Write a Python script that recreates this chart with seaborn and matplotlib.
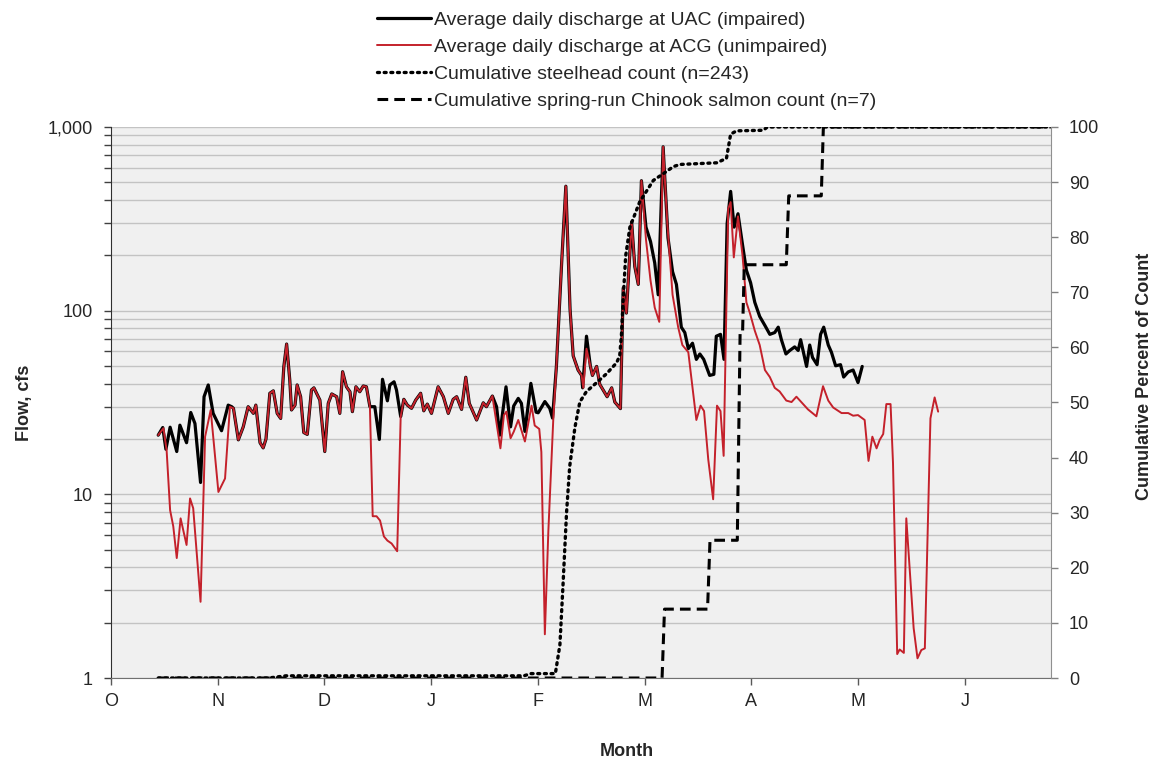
import numpy as np
import pandas as pd
import matplotlib
matplotlib.use("Agg")
import matplotlib.pyplot as plt
import seaborn as sns
from matplotlib.ticker import FixedLocator, NullFormatter

sns.set_style("white")
plt.rcParams['font.family'] = ['Liberation Sans', 'DejaVu Sans']

# Month axis (days counted from 1 October, months drawn at equal spacing)
month_labels = ["O", "N", "D", "J", "F", "M", "A", "M", "J"]
month_len = 30.5
x_end = 268.6

# Average daily discharge at UAC (impaired), cfs
uac_day = [13.5, 14.8, 15.7, 16.9, 18.8, 19.7, 21.6, 22.8, 24.0, 25.6, 26.6, 27.8, 29.2, 31.6, 33.5, 34.5,
           35.0, 36.4, 37.8, 39.2, 40.7, 41.4, 42.6, 43.5, 44.3, 45.4, 46.4, 47.5, 48.5, 49.4, 50.2, 51.1,
           51.6, 52.6, 53.2, 54.2, 55.1, 56.1, 57.3, 58.0, 59.7, 61.1, 62.1, 63.1, 64.5, 65.4, 66.2, 67.3,
           68.3, 69.0, 70.0, 71.1, 72.1, 73.0, 74.0, 75.4, 76.7, 77.6, 79.0, 79.7, 80.9, 81.6, 82.8, 83.7,
           84.7, 85.9, 87.1, 88.5, 89.4, 90.4, 91.6, 93.5, 95.0, 96.4, 97.8, 98.8, 100.2, 101.4, 102.4, 104.5,
           106.4, 107.3, 109.0, 110.2, 111.1, 112.9, 114.2, 115.1, 116.4, 117.3, 118.3, 120.0, 121.5, 122.1,
           124.0, 125.4, 126.2, 127.3, 128.8, 130.0, 131.2, 132.1, 133.5, 134.5, 134.8, 135.9, 137.0, 137.6,
           138.8, 139.7, 141.8, 143.1, 144.0, 145.6, 146.4, 147.3, 148.8, 149.7, 150.7, 151.6, 152.9, 154.2,
           155.4, 156.4, 157.8, 159.2, 160.5, 161.6, 163.0, 164.0, 165.0, 166.2, 167.3, 168.3, 169.4, 171.1,
           172.3, 173.0, 174.2, 175.2, 176.1, 177.1, 178.1, 179.2, 180.5, 181.6, 182.8, 184.0, 185.4, 186.9,
           188.3, 189.7, 190.7, 191.6, 192.9, 194.0, 195.4, 196.4, 197.1, 198.8, 199.7, 200.5, 201.8, 202.8,
           203.7, 205.0, 205.9, 207.1, 208.5, 209.4, 210.7, 212.1, 213.5, 214.7]
uac_flow = [21.0, 23.1, 17.6, 23.2, 17.1, 23.8, 19.1, 27.9, 24.3, 11.6, 34.0, 39.4, 27.6, 22.2, 30.6, 30.0,
            29.4, 19.8, 23.3, 30.0, 27.6, 30.6, 19.1, 17.9, 20.0, 35.5, 36.6, 27.6, 25.9, 49.5, 65.8, 41.9,
            28.8, 30.6, 39.4, 34.0, 21.7, 21.2, 37.0, 38.0, 32.6, 17.1, 31.3, 35.2, 34.0, 27.6, 46.5, 38.5,
            36.2, 28.2, 38.5, 36.2, 38.9, 38.5, 30.0, 30.0, 19.9, 42.3, 32.3, 39.4, 41.0, 37.0, 26.5, 32.9,
            30.6, 29.4, 32.6, 35.5, 28.5, 31.0, 27.6, 38.5, 34.0, 27.6, 32.9, 34.0, 29.0, 43.4, 31.3, 25.4,
            31.5, 30.0, 34.3, 30.0, 21.0, 38.5, 23.3, 30.3, 33.3, 31.3, 22.0, 40.2, 28.0, 27.8,
            32.0, 29.4, 26.0, 49.7, 182, 476, 102, 56.8, 47.5, 44.4, 38.0, 72.6, 50.0, 44.4,
            49.7, 39.7, 34.0, 38.0, 31.8, 29.3, 133, 97, 304, 174, 139, 510, 285, 238,
            182, 122, 780, 249, 163, 139, 81.3, 76.0, 62.1, 66.5, 54.3, 58.1, 54.3, 44.4,
            45.0, 72.6, 74.3, 54.3, 298, 446, 285, 337, 228, 166, 142, 111, 93, 83.0,
            74.3, 76.0, 81.3, 69.5, 58.1, 60.7, 63.5, 60.7, 69.5, 49.7, 65.0, 55.6, 50.8, 74.3,
            81.3, 65.0, 59.4, 50.1, 50.8, 43.5, 46.4, 47.5, 40.6, 49.7]

# Average daily discharge at ACG (unimpaired), cfs
acg_day = [13.5, 15.0, 15.9, 16.9, 17.8, 18.8, 19.9, 21.6, 22.6, 23.5, 25.6, 26.9, 28.5, 30.7, 32.6, 34.0,
           35.0, 36.4, 37.8, 39.2, 40.7, 41.4, 42.6, 43.5, 44.3, 45.4, 46.4, 47.5, 48.5, 49.4, 50.2, 51.1,
           51.6, 52.6, 53.2, 54.2, 55.1, 56.1, 57.3, 58.0, 59.7, 61.1, 62.1, 63.1, 64.5, 65.4, 66.2, 67.3,
           68.3, 69.0, 70.0, 71.1, 72.1, 73.0, 74.0, 74.8, 75.9, 76.9, 78.0, 79.0, 80.2, 81.8, 82.8, 83.7,
           84.7, 85.9, 87.1, 88.5, 89.4, 90.4, 91.6, 93.5, 95.0, 96.4, 97.8, 98.8, 100.2, 101.4, 102.4, 104.5,
           106.4, 107.3, 109.0, 110.2, 111.3, 112.3, 113.0, 114.2, 115.1, 116.4, 118.3, 120.2, 121.1, 122.4,
           123.0, 124.0, 125.0, 126.4, 127.3, 128.8, 130.0, 131.2, 132.1, 133.5, 134.5, 135.0, 135.9, 137.6,
           138.8, 139.7, 141.8, 143.1, 144.0, 145.6, 146.4, 147.3, 148.8, 149.7, 150.7, 151.6, 152.9, 154.2,
           155.4, 156.7, 157.8, 159.0, 160.5, 162.1, 163.3, 165.0, 167.3, 168.5, 169.5, 170.7, 172.1, 173.2,
           174.2, 175.1, 176.4, 177.1, 178.0, 179.2, 180.5, 181.6, 182.6, 184.0, 185.4, 186.9, 188.3, 189.7,
           191.1, 193.0, 194.5, 195.9, 197.3, 199.2, 201.6, 203.5, 205.0, 206.4, 208.8, 210.7, 212.1, 213.5,
           215.4, 216.5, 217.6, 218.8, 219.7, 220.7, 221.6, 222.8, 223.5, 224.7, 225.4, 226.6, 227.3, 229.4,
           230.5, 231.6, 232.6, 234.2, 235.4, 236.4]
acg_flow = [21.0, 22.9, 17.4, 8.2, 6.7, 4.5, 7.4, 5.3, 9.5, 8.4, 2.6, 20.6, 28.8, 10.3, 12.2, 30.0,
            29.4, 19.8, 23.3, 30.0, 27.6, 30.6, 19.1, 17.9, 20.0, 35.5, 36.6, 27.6, 25.9, 49.5, 65.8, 41.9,
            28.8, 30.6, 39.4, 34.0, 21.7, 21.2, 37.0, 38.0, 32.6, 17.1, 31.3, 35.2, 34.0, 27.6, 46.5, 38.5,
            36.2, 28.2, 38.5, 36.2, 38.9, 38.5, 30.0, 7.6, 7.6, 7.2, 5.9, 5.6, 5.4, 4.9, 26.5, 32.9,
            30.6, 29.4, 32.6, 35.5, 28.5, 31.0, 27.6, 38.5, 34.0, 27.6, 32.9, 34.0, 29.0, 43.4, 31.3, 25.4,
            31.5, 30.0, 34.3, 24.3, 17.8, 27.0, 28.2, 20.2, 21.9, 25.4, 19.4, 30.4, 23.7, 22.7,
            17.0, 1.73, 6.3, 25.4, 49.7, 182, 476, 102, 56.8, 47.5, 44.4, 38.0, 62.1, 44.4,
            49.7, 39.7, 34.0, 38.0, 31.8, 29.3, 133, 97, 304, 174, 139, 510, 244, 146,
            104, 86.9, 780, 298, 122, 81.3, 65.0, 59.4, 25.4, 30.4, 28.4, 15.5, 9.4, 30.4,
            28.4, 16.2, 359, 390, 195, 326, 199, 111, 97, 77.8, 65.0, 47.5, 43.5, 38.0,
            36.3, 32.4, 31.8, 34.0, 31.8, 29.0, 26.6, 38.8, 32.4, 29.7, 27.7, 27.7, 26.8, 27.0,
            25.4, 15.2, 20.6, 17.8, 19.8, 21.3, 31.0, 31.0, 14.8, 1.35, 1.43, 1.37, 7.4, 1.87,
            1.28, 1.42, 1.45, 25.9, 33.7, 28.2]

# Cumulative steelhead count, percent (n=243)
steelhead_day = [13.5, 45.0, 50.0, 118.0, 120.0, 127.0, 128.3, 129.2, 130.2, 131.1, 132.6, 134.0, 135.9,
                 138.8, 141.6, 144.5, 145.4, 145.9, 146.4, 147.1, 148.3, 149.7, 151.1, 153.0, 155.0,
                 157.8, 160.7, 162.6, 173.1, 175.9, 177.1, 178.8, 186.4, 187.6, 268.6]
steelhead_pct = [0.0, 0.0, 0.4, 0.4, 0.8, 0.8, 6.0, 17.0, 30.0, 38.4, 45.5, 50.1, 52.0,
                 53.6, 55.2, 57.2, 58.5, 62.4, 68.9, 76.6, 81.8, 84.1, 86.4, 88.3, 90.3,
                 91.5, 92.8, 93.2, 93.5, 94.3, 98.7, 99.3, 99.4, 100.0, 100.0]

# Cumulative spring-run Chinook salmon count, percent (n=7)
chinook_day = [13.5, 157.5, 158.2, 170.5, 171.2, 179.0, 179.8, 180.5, 181.0, 193.0, 193.7, 203.0, 203.6, 268.6]
chinook_pct = [0.0, 0.0, 12.5, 12.5, 25.0, 25.0, 62.5, 62.5, 75.0, 75.0, 87.5, 87.5, 100.0, 100.0]

uac = pd.DataFrame({"day": uac_day, "flow": uac_flow})
acg = pd.DataFrame({"day": acg_day, "flow": acg_flow})
steel = pd.DataFrame({"day": steelhead_day, "pct": steelhead_pct})
chin = pd.DataFrame({"day": chinook_day, "pct": chinook_pct})

fig = plt.figure(figsize=(11.56, 7.59), dpi=100)
ax = fig.add_axes([0.096, 0.1067, 0.813, 0.726])
ax.set_facecolor("#f0f0f0")

sns.lineplot(data=uac, x="day", y="flow", ax=ax, color="black", lw=2.3, sort=False,
             estimator=None, label="Average daily discharge at UAC (impaired)")
sns.lineplot(data=acg, x="day", y="flow", ax=ax, color="#c4212b", lw=1.4, sort=False,
             estimator=None, label="Average daily discharge at ACG (unimpaired)")

ax.set_yscale("log")
ax.set_ylim(1, 1000)
ax.set_xlim(0, x_end)
ax.yaxis.set_major_locator(FixedLocator([1, 10, 100, 1000]))
ax.set_yticklabels(["1", "10", "100", "1,000"])
minor = [m * 10 ** e for e in range(0, 3) for m in range(2, 10)]
ax.yaxis.set_minor_locator(FixedLocator(minor))
ax.yaxis.set_minor_formatter(NullFormatter())
ax.grid(True, which="both", axis="y", color="#c3c3c3", lw=1.0)
ax.grid(False, axis="x")
ax.set_axisbelow(True)

ax.set_xticks([i * month_len for i in range(len(month_labels))])
ax.set_xticklabels(month_labels)
ax.tick_params(axis="x", which="major", direction="out", length=5, width=1, color="#595959",
               labelsize=13, pad=6, bottom=True)
ax.tick_params(axis="y", which="both", direction="out", length=5, width=1, color="#404040",
               labelsize=13, left=True)
ax.tick_params(axis="y", which="major", pad=8)

for side in ["top", "right"]:
    ax.spines[side].set_visible(False)
ax.spines["left"].set_color("#303030")
ax.spines["bottom"].set_color("#707070")

ax.set_xlabel("Month", fontsize=13, fontweight="bold")
ax.xaxis.set_label_coords(0.549, -0.118)
ax.set_ylabel("Flow, cfs", fontsize=13, fontweight="bold")
ax.yaxis.set_label_coords(-0.083, 0.5)

ax2 = ax.twinx()
sns.lineplot(data=steel, x="day", y="pct", ax=ax2, color="black", lw=2.4, sort=False,
             estimator=None, linestyle=(0, (0.6, 1.4)), dash_capstyle="round",
             label="Cumulative steelhead count (n=243)")
sns.lineplot(data=chin, x="day", y="pct", ax=ax2, color="black", lw=2.2, sort=False,
             estimator=None, linestyle=(0, (3.5, 2.0)),
             label="Cumulative spring-run Chinook salmon count (n=7)")
ax2.set_ylim(0, 100)
ax2.set_xlim(0, x_end)
ax2.set_yticks(range(0, 101, 10))
ax2.tick_params(axis="y", direction="out", length=5, width=1, color="#808080", labelsize=13, pad=8)
ax2.set_ylabel("Cumulative Percent of Count", fontsize=13, fontweight="bold")
ax2.yaxis.set_label_coords(1.091, 0.548)
for side in ["top", "left", "bottom"]:
    ax2.spines[side].set_visible(False)
ax2.spines["right"].set_color("#909090")

handles = ax.get_lines()[:2] + ax2.get_lines()[:2]
labels = [h.get_label() for h in handles]
for a in (ax, ax2):
    if a.get_legend() is not None:
        a.get_legend().remove()
fig.legend(handles, labels, loc="upper center", bbox_to_anchor=(0.542, 1.003), frameon=False,
           fontsize=14, handlelength=2.75, handletextpad=0.15, labelspacing=0.48, borderpad=0.2)

fig.savefig("out.png", dpi=100)
